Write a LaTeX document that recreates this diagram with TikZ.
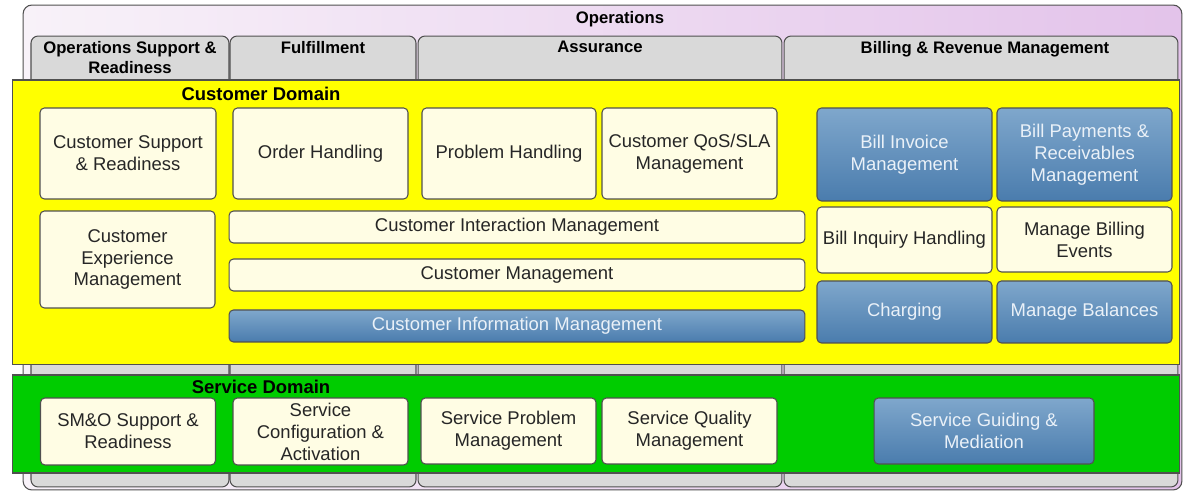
\documentclass[tikz,border=0pt]{standalone}
\usepackage{fontspec}
\setmainfont{Liberation Sans}
\definecolor{oplight}{HTML}{F8F2F9}
\definecolor{opdark}{HTML}{E3C3EA}
\definecolor{colgray}{HTML}{D9D9D9}
\definecolor{custyellow}{HTML}{FFFF00}
\definecolor{servgreen}{HTML}{00CC00}
\definecolor{cream}{HTML}{FFFDE4}
\definecolor{bluetop}{HTML}{7FA7CC}
\definecolor{bluebot}{HTML}{4A7CAD}
\definecolor{bluetext}{HTML}{EAF1F8}
\definecolor{edge}{HTML}{505050}

\begin{document}
\begin{tikzpicture}[x=0.02cm, y=-0.02cm,
  every node/.style={inner sep=0pt, outer sep=0pt, align=center},
  area/.style={draw=edge, line width=0.6pt, rounded corners=5pt, left color=oplight, right color=opdark},
  col/.style={draw=edge, line width=0.6pt, rounded corners=4pt, fill=colgray},
  dom/.style={draw=edge, line width=0.6pt},
  head/.style={font=\fontsize{9.5}{11.5}\selectfont\bfseries, text=black},
  domtitle/.style={font=\fontsize{10.5}{12}\selectfont\bfseries, text=black},
  proc/.style={draw=edge, line width=0.6pt, rounded corners=2.5pt, fill=cream, text=black!85,
    font=\fontsize{10.5}{12.5}\selectfont},
  blueproc/.style={proc, top color=bluetop, bottom color=bluebot, text=bluetext}]
 \useasboundingbox (0,0) rectangle (1184,492);

 % operations frame and its columns
 \node (ops) [area, minimum width=23.18cm, minimum height=9.70cm] at (602.5,247.5) {};
 \node (opstitle) [head] at (620,19) {Operations};
 \node (osr) [col, minimum width=3.96cm, minimum height=9.02cm] at (130,261.5) {};
 \node (ful) [col, minimum width=3.72cm, minimum height=9.02cm] at (323,261.5) {};
 \node (ass) [col, minimum width=7.28cm, minimum height=9.02cm] at (600,261.5) {};
 \node (brm) [col, minimum width=7.88cm, minimum height=9.02cm] at (981,261.5) {};
 \node (osrtitle) [head, anchor=north] at (130,41) {Operations Support \&\\Readiness};
 \node (fultitle) [head, anchor=north] at (323,41) {Fulfillment};
 \node (asstitle) [head, anchor=north] at (600,41) {Assurance};
 \node (brmtitle) [head, anchor=north] at (985,41) {Billing \& Revenue Management};

 % customer domain
 \node (cd) [dom, fill=custyellow, minimum width=23.36cm, minimum height=5.70cm] at (596,222.5) {};
 \node (cdtitle) [domtitle] at (261,94) {Customer Domain};
 \node (csr) [proc, minimum width=3.52cm, minimum height=1.82cm] at (128,153.5) {Customer Support\\\& Readiness};
 \node (oh) [proc, minimum width=3.50cm, minimum height=1.82cm] at (320.5,153.5) {Order Handling};
 \node (ph) [proc, minimum width=3.48cm, minimum height=1.82cm] at (509,153.5) {Problem Handling};
 \node (qos) [proc, minimum width=3.50cm, minimum height=1.82cm] at (689.5,153.5) {Customer QoS/SLA\\Management};
 \node (bim) [blueproc, minimum width=3.50cm, minimum height=1.86cm] at (904.5,154.5) {Bill Invoice\\Management};
 \node (bpr) [blueproc, minimum width=3.50cm, minimum height=1.86cm] at (1084.5,154.5) {Bill Payments \&\\Receivables\\Management};
 \node (cem) [proc, minimum width=3.50cm, minimum height=1.94cm] at (127.5,259.5) {Customer\\Experience\\Management};
 \node (cim) [proc, minimum width=11.52cm, minimum height=0.64cm] at (517,227) {Customer Interaction Management};
 \node (cm) [proc, minimum width=11.52cm, minimum height=0.64cm] at (517,275) {Customer Management};
 \node (cinf) [blueproc, minimum width=11.52cm, minimum height=0.64cm] at (517,326) {Customer Information Management};
 \node (bih) [proc, minimum width=3.50cm, minimum height=1.32cm] at (904.5,240) {Bill Inquiry Handling};
 \node (mbe) [proc, minimum width=3.50cm, minimum height=1.30cm] at (1084.5,239.5) {Manage Billing\\Events};
 \node (chg) [blueproc, minimum width=3.50cm, minimum height=1.24cm] at (904.5,312) {Charging};
 \node (mbal) [blueproc, minimum width=3.50cm, minimum height=1.24cm] at (1084.5,312) {Manage Balances};

 % service domain
 \node (sd) [dom, fill=servgreen, minimum width=23.36cm, minimum height=1.96cm] at (596,424) {};
 \node (sdtitle) [domtitle] at (261,387) {Service Domain};
 \node (smo) [proc, minimum width=3.50cm, minimum height=1.34cm] at (128,431.5) {SM\&O Support \&\\Readiness};
 \node (sca) [proc, minimum width=3.50cm, minimum height=1.34cm] at (320.5,431.5) {Service\\Configuration \&\\Activation};
 \node (spm) [proc, minimum width=3.50cm, minimum height=1.32cm] at (508.5,431) {Service Problem\\Management};
 \node (sqm) [proc, minimum width=3.50cm, minimum height=1.32cm] at (689.5,431) {Service Quality\\Management};
 \node (sgm) [blueproc, minimum width=4.40cm, minimum height=1.32cm] at (984,431) {Service Guiding \&\\Mediation};
\end{tikzpicture}
\end{document}
